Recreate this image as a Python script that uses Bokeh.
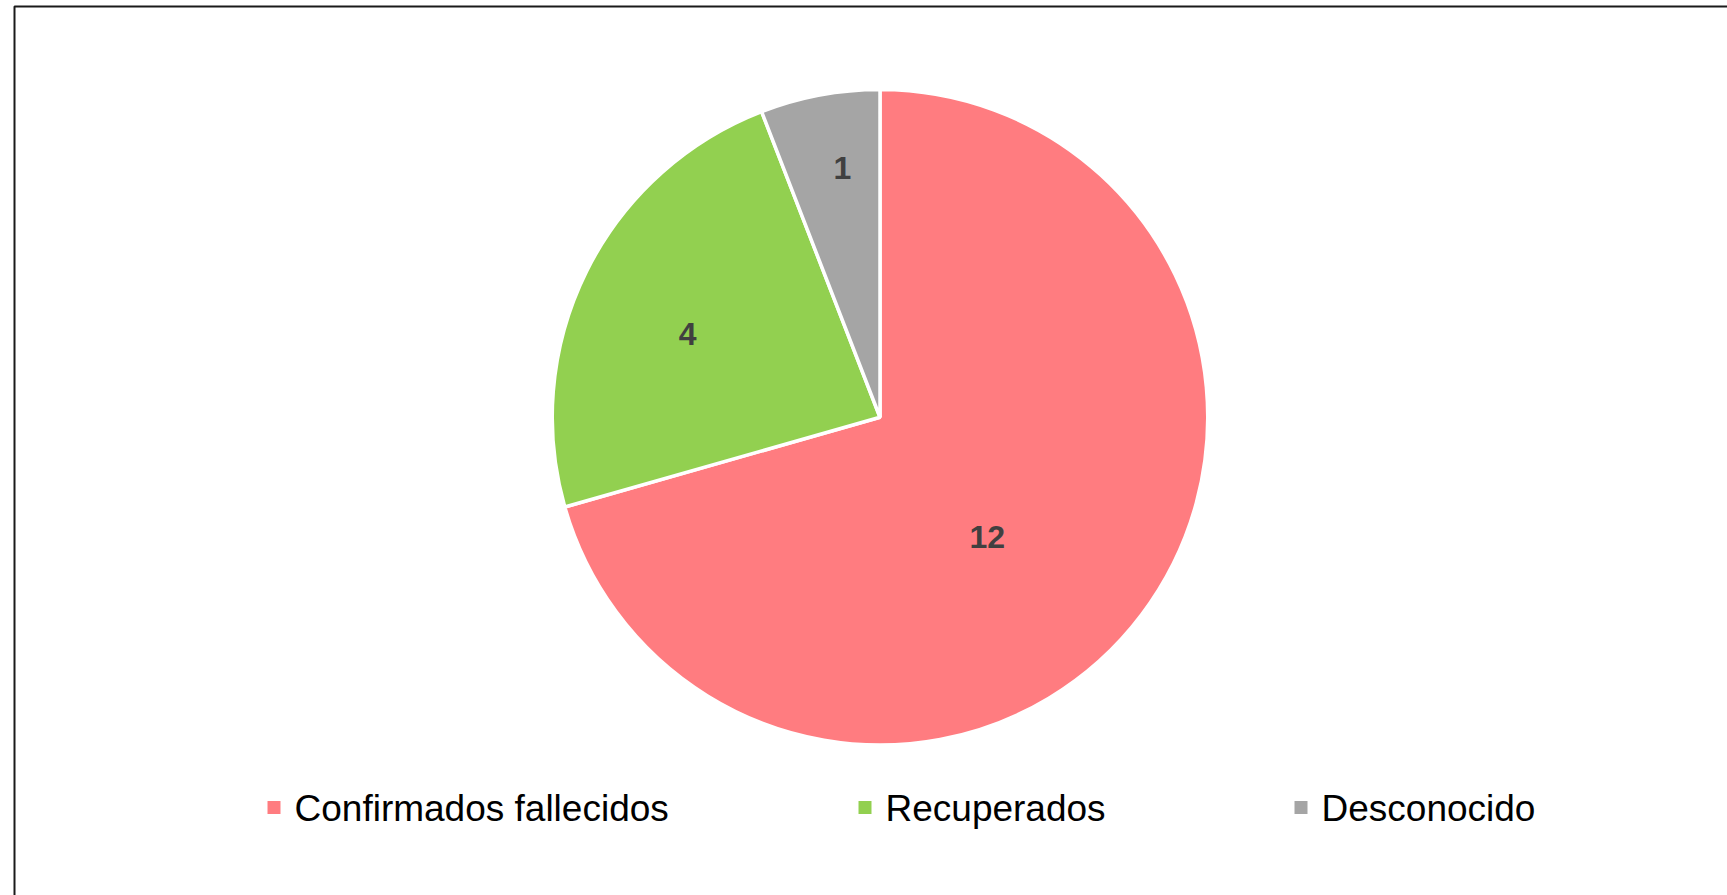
import numpy as np
from bokeh.plotting import figure
from bokeh.models import Range1d, ColumnDataSource
from bokeh.core.properties import value
from bokeh.embed import file_html
from bokeh.resources import INLINE

# ---- data ----
categories = ["Confirmados fallecidos", "Recuperados", "Desconocido"]
counts = [12, 4, 1]
colors = ["#FF7C80", "#92D050", "#A5A5A5"]

# ---- layout (page pixel coordinates) ----
W, H = 1727, 895
CX, CY_PAGE, R = 879.5, 416.75, 327.75
label_r_frac = [0.49, 0.64, 0.77]
label_angle_shift = [-11.0, 3.0, -2.0]  # degrees, best-fit placement tweak


def py(page_y):
    # convert page y (down) to data y (up)
    return H - page_y


p = figure(width=W, height=H, output_backend="svg", toolbar_location=None,
           x_range=Range1d(0, W), y_range=Range1d(0, H),
           min_border=0, outline_line_color=None)
p.axis.visible = False
p.grid.visible = False
p.background_fill_color = "white"
p.border_fill_color = "white"

# outer chart frame (clipped at right/bottom like the reference)
p.line(x=[14, 14, 14 + 2000], y=[py(H + 50), py(6), py(6)],
       line_color="#1a1a1a", line_width=2)

# ---- pie ----
vals = np.array(counts, dtype=float)
frac = vals / vals.sum()
ends_cum = np.cumsum(frac)
starts_cum = ends_cum - frac
start_angles = np.pi / 2 - 2 * np.pi * starts_cum
end_angles = np.pi / 2 - 2 * np.pi * ends_cum
cy = py(CY_PAGE)

src = ColumnDataSource(dict(start=start_angles, end=end_angles, color=colors,
                            name=categories))
p.wedge(x=CX, y=cy, radius=R, start_angle="start", end_angle="end",
        direction="clock", fill_color="color", line_color="white",
        line_width=3.5, source=src)

# data labels
mid = (start_angles + end_angles) / 2 + np.radians(label_angle_shift)
lx = CX + R * np.array(label_r_frac) * np.cos(mid)
ly = cy + R * np.array(label_r_frac) * np.sin(mid)
p.text(x=lx, y=ly, text=[str(c) for c in counts],
       text_font=value("Liberation Sans"), text_font_style="bold",
       text_font_size="32px", text_color="#404040",
       text_align="center", text_baseline="middle")

# ---- legend (manual, horizontal row) ----
legend_x = [267, 858, 1294]
legend_y_page = 807
p.rect(x=[x + 6.5 for x in legend_x], y=[py(legend_y_page)] * 3,
       width=13, height=13, fill_color=colors, line_color=None)
p.text(x=[x + 27 for x in legend_x], y=[py(legend_y_page + 1)] * 3,
       text=categories, text_font=value("Liberation Sans"),
       text_font_size="37px", text_color="#000000",
       text_align="left", text_baseline="middle")

open("out.html", "w").write(file_html(p, INLINE))
